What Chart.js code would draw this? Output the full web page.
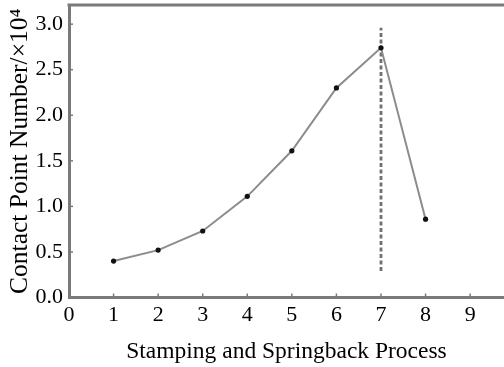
<!DOCTYPE html>
<html>
<head>
<meta charset="utf-8">
<script src="https://cdn.jsdelivr.net/npm/chart.js@4/dist/chart.umd.min.js"></script>
<style>
  html, body { margin: 0; padding: 0; background: #fff; }
  #wrap { width: 504px; height: 367px; position: relative; }
</style>
</head>
<body>
<div id="wrap"><canvas id="c"></canvas></div>
<script>
const stages = [1, 2, 3, 4, 5, 6, 7, 8];
const contactPoints = [0.40, 0.52, 0.73, 1.11, 1.61, 2.30, 2.74, 0.86];
const markerStage = [7, 7];
const markerRange = [0.29, 2.96];
const xTickValues = [0, 1, 2, 3, 4, 5, 6, 7, 8, 9];
const yTickValues = [0, 0.5, 1.0, 1.5, 2.0, 2.5, 3.0];
const xTitle = 'Stamping and Springback Process';
const yTitle = 'Contact Point Number/\u00D710\u2074';

const FONT = "'Liberation Serif', 'Times New Roman', serif";
const AXIS_COLOR = '#7a7a7a';

const frame = {
  id: 'frame',
  afterDatasetsDraw(chart) {
    const { ctx, chartArea: a, scales } = chart;
    ctx.save();
    ctx.strokeStyle = AXIS_COLOR;
    ctx.lineWidth = 1.5;
    xTickValues.forEach(v => {
      const px = scales.x.getPixelForValue(v);
      ctx.beginPath(); ctx.moveTo(px, a.bottom); ctx.lineTo(px, a.bottom - 4); ctx.stroke();
    });
    yTickValues.forEach(v => {
      const py = scales.y.getPixelForValue(v);
      ctx.beginPath(); ctx.moveTo(a.left, py); ctx.lineTo(a.left + 4, py); ctx.stroke();
    });
    ctx.lineWidth = 3;
    ctx.beginPath(); ctx.moveTo(a.left - 1.5, a.top); ctx.lineTo(chart.width, a.top); ctx.stroke();
    ctx.restore();
  }
};

new Chart(document.getElementById('c'), {
  type: 'line',
  data: {
    datasets: [
      {
        data: stages.map((s, i) => ({ x: s, y: contactPoints[i] })),
        borderColor: '#8c8c8c',
        borderWidth: 2,
        pointRadius: 2.6,
        pointBackgroundColor: '#111',
        pointBorderColor: '#111',
        pointBorderWidth: 0,
        tension: 0,
        order: 1
      },
      {
        data: markerStage.map((s, i) => ({ x: s, y: markerRange[i] })),
        borderColor: '#707070',
        borderWidth: 2.8,
        borderDash: [4, 2.5],
        pointRadius: 0,
        tension: 0,
        order: 2
      }
    ]
  },
  plugins: [frame],
  options: {
    responsive: true,
    maintainAspectRatio: false,
    animation: false,
    layout: { autoPadding: false, padding: { top: 5, right: 0, left: 0, bottom: 0 } },
    plugins: { legend: { display: false }, tooltip: { enabled: false } },
    scales: {
      x: {
        type: 'linear',
        min: 0,
        max: 9.76,
        afterBuildTicks: s => { s.ticks = xTickValues.map(v => ({ value: v })); },
        afterFit: s => { s.height = 69.5; s.paddingLeft = 0; s.paddingRight = 0; },
        grid: { display: true, drawOnChartArea: false, drawTicks: false },
        border: { display: true, color: AXIS_COLOR, width: 3 },
        ticks: {
          padding: 5,
          color: '#000',
          font: { family: FONT, size: 22 },
          maxRotation: 0,
          callback: v => String(v)
        },
        title: {
          display: true,
          text: xTitle,
          color: '#000',
          font: { family: FONT, size: 23.5 },
          padding: { top: 0, bottom: 1 }
        }
      },
      y: {
        type: 'linear',
        min: 0,
        max: 3.21,
        afterBuildTicks: s => { s.ticks = yTickValues.map(v => ({ value: v })); },
        afterFit: s => { s.width = 69; s.paddingTop = 0; s.paddingBottom = 0; },
        grid: { display: true, drawOnChartArea: false, drawTicks: false },
        border: { display: true, color: AXIS_COLOR, width: 3 },
        ticks: {
          padding: 6,
          color: '#000',
          font: { family: FONT, size: 22 },
          callback: v => Number(v).toFixed(1)
        },
        title: {
          display: true,
          text: yTitle,
          color: '#000',
          font: { family: FONT, size: 25.5 },
          padding: { top: 5, bottom: 0 }
        }
      }
    }
  }
});
</script>
</body>
</html>
